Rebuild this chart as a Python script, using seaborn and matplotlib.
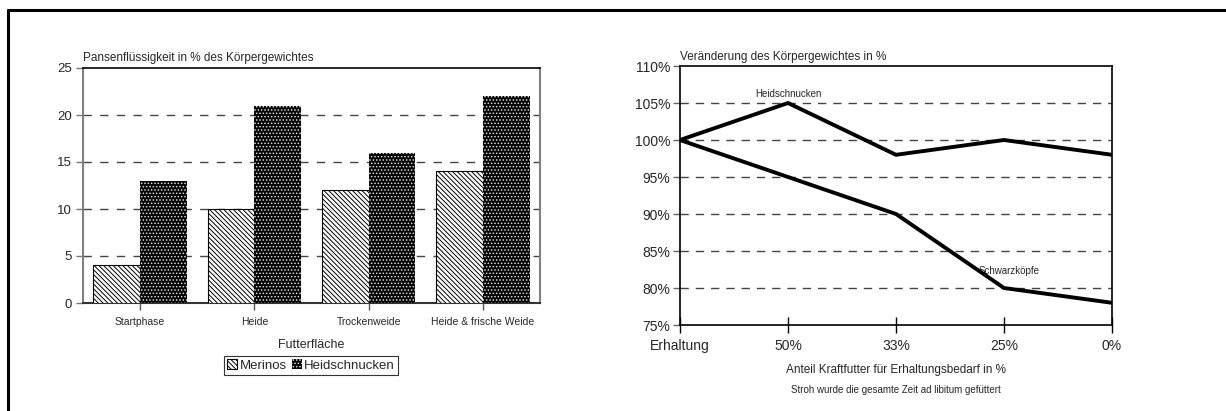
import matplotlib
matplotlib.use("Agg")
import matplotlib.pyplot as plt
import seaborn as sns
import pandas as pd
from matplotlib.lines import Line2D

# ---- data ----
categories = ["Startphase", "Heide", "Trockenweide", "Heide & frische Weide"]
merinos = [4, 10, 12, 14]
heidschnucken_bar = [13, 21, 16, 22]

stages = ["Erhaltung", "50%", "33%", "25%", "0%"]
heidschnucken_line = [100, 105, 98, 100, 98]
schwarzkoepfe_line = [100, 95, 90, 80, 78]

sns.set_theme(style="white")
plt.rcParams["font.family"] = ["Liberation Sans", "DejaVu Sans"]
plt.rcParams["hatch.linewidth"] = 0.7

fig = plt.figure(figsize=(12.26, 4.11), dpi=100)

# ---- left: bar chart ----
axL = fig.add_axes([83/1226, 1-303/411, 457/1226, 235/411])
df_bar = pd.DataFrame({
    "Futterfläche": categories * 2,
    "Wert": merinos + heidschnucken_bar,
    "Rasse": ["Merinos"] * 4 + ["Heidschnucken"] * 4,
})
sns.barplot(data=df_bar, x="Futterfläche", y="Wert", hue="Rasse",
            order=categories, hue_order=["Merinos", "Heidschnucken"],
            palette=["white", "black"], width=0.82, gap=0, ax=axL,
            legend=False, zorder=3)
nb = len(categories)
for i, p in enumerate(axL.patches[:2*nb]):
    if i < nb:
        p.set_facecolor("white")
        p.set_edgecolor("black")
        p.set_hatch("\\\\\\\\\\\\\\")
        p.set_linewidth(0.8)
    else:
        p.set_facecolor("black")
        p.set_edgecolor("#dddddd")
        p.set_hatch(".....")
        p.set_linewidth(0)

axL.set_ylim(0, 25)
axL.set_xlim(-0.5, nb - 0.5)
axL.set_yticks([0, 5, 10, 15, 20, 25])
axL.tick_params(axis="y", labelsize=9.5, length=5, width=1, color="#777777",
                direction="out", left=True, pad=3)
axL.tick_params(axis="x", labelsize=7.5, length=5, width=1, color="#555555",
                direction="out", bottom=True, pad=5)
for y in [5, 10, 15, 20]:
    axL.axhline(y, color="#444444", lw=1, ls=(0, (6, 6)), zorder=1)
axL.spines["top"].set_color("black")
axL.spines["top"].set_linewidth(1.2)
axL.spines["left"].set_color("#808080")
axL.spines["right"].set_color("#808080")
axL.spines["bottom"].set_color("#333333")
for s in ["left", "right", "bottom"]:
    axL.spines[s].set_linewidth(1.5)
axL.set_ylabel("")
axL.set_xlabel("Futterfläche", fontsize=9, labelpad=9)
axL.text(0.0, 1.015, "Pansenflüssigkeit in % des Körpergewichtes",
         transform=axL.transAxes, fontsize=8.5, ha="left", va="bottom")

handles = [axL.patches[0], axL.patches[nb]]
leg = fig.legend(handles, ["Merinos", "Heidschnucken"],
                 loc="center", bbox_to_anchor=(311/1226, 1-365.5/411),
                 ncol=2, fontsize=9.5, frameon=True, fancybox=False,
                 handlelength=0.8, handleheight=0.8, handletextpad=0.15,
                 columnspacing=0.4, borderpad=0.25, borderaxespad=0)
leg.get_frame().set_edgecolor("black")
leg.get_frame().set_linewidth(0.8)

# ---- right: line chart ----
axR = fig.add_axes([680/1226, 1-325/411, 432/1226, 259/411])
df_line = pd.DataFrame({
    "Stufe": pd.Categorical(stages * 2, categories=stages, ordered=True),
    "Wert": heidschnucken_line + schwarzkoepfe_line,
    "Rasse": ["Heidschnucken"] * 5 + ["Schwarzköpfe"] * 5,
})
df_line["pos"] = df_line["Stufe"].cat.codes
sns.lineplot(data=df_line, x="pos", y="Wert", hue="Rasse",
             palette=["black", "black"], lw=2.8, legend=False, ax=axR,
             zorder=4, sort=False)
axR.set_xlim(0, len(stages) - 1)
axR.set_ylim(75, 110)
axR.set_xticks(range(len(stages)))
axR.set_xticklabels(stages)
axR.set_yticks(range(75, 111, 5))
axR.set_yticklabels([f"{v}%" for v in range(75, 111, 5)])
for y in range(80, 110, 5):
    axR.axhline(y, color="#444444", lw=1, ls=(0, (6, 5)), zorder=1)
axR.tick_params(axis="y", labelsize=10, length=5, width=1, color="#666666",
                direction="out", left=True, pad=2)
axR.tick_params(axis="x", labelsize=10, length=12, width=1, color="black",
                direction="inout", bottom=True, pad=4)
for s in axR.spines.values():
    s.set_color("black")
    s.set_linewidth(1.2)
axR.set_ylabel("")
axR.set_xlabel("Anteil Kraftfutter für Erhaltungsbedarf in %", fontsize=8.5,
               labelpad=8)
axR.text(0.5, -0.25, "Stroh wurde die gesamte Zeit ad libitum gefüttert",
         transform=axR.transAxes, fontsize=7, ha="center", va="center")
axR.text(0.0, 1.01, "Veränderung des Körpergewichtes in %",
         transform=axR.transAxes, fontsize=8.5, ha="left", va="bottom")
axR.text(1.0, 105.6, "Heidschnucken", fontsize=7, ha="center", va="bottom")
axR.text(3.05, 82.3, "Schwarzköpfe", fontsize=7, ha="center", va="center")

# ---- outer frame ----
fig.add_artist(Line2D([8/1226, 1.0], [1-10/411, 1-10/411], color="black",
                      lw=2.2, transform=fig.transFigure))
fig.add_artist(Line2D([8/1226, 8/1226], [1-10/411, 0], color="black",
                      lw=2.2, transform=fig.transFigure))

fig.savefig("out.png", dpi=100)
